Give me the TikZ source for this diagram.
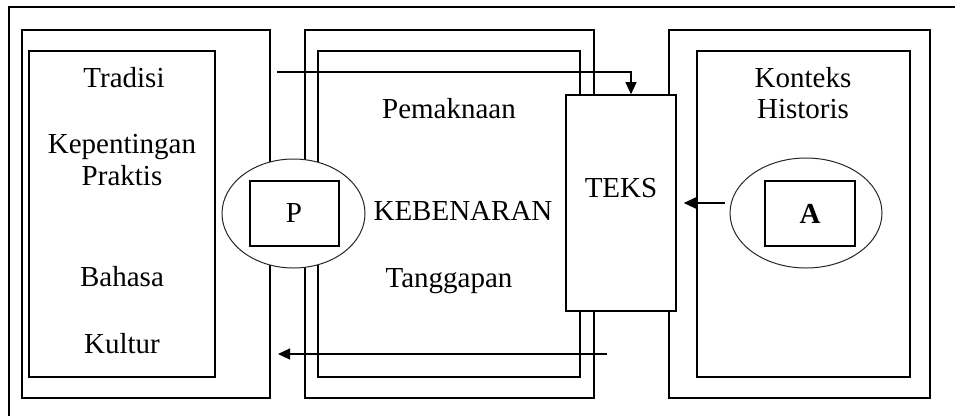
\documentclass[tikz,border=0pt]{standalone}
\usepackage{fontspec}
\setmainfont{Liberation Serif}
\usetikzlibrary{arrows.meta,calc,shapes.geometric}
\begin{document}
\begin{tikzpicture}[x=1pt,y=-1pt,
  box/.style={draw,line width=1.6pt,inner sep=0pt,rectangle},
  wbox/.style={box,fill=white},
  ell/.style={draw=black!85,line width=1pt,fill=white,ellipse,inner sep=0pt},
  lbl/.style={anchor=base,inner sep=0pt,font=\fontsize{29}{31}\selectfont},
  arr/.style={line width=1.2pt,-{Triangle[length=12pt,width=11pt]}},
  frame/.style={line width=1.3pt}]
\useasboundingbox (0,0) rectangle (955,416);
% outer frame (cropped)
\coordinate (f1) at (9,416);
\coordinate (f2) at (9,7);
\coordinate (f3) at (955,7);
\draw[frame] (f1) -- (f2) -- (f3);
% left group
\node[box,minimum width=248pt,minimum height=368pt] (Lout) at (146,214) {};
\node[box,minimum width=186pt,minimum height=326pt] (Lin) at (122,214) {};
% middle group
\node[box,minimum width=289pt,minimum height=368pt] (Mout) at (449.5,214) {};
\node[box,minimum width=262pt,minimum height=326pt] (Min) at (449,214) {};
% right group
\node[box,minimum width=261pt,minimum height=368pt] (Rout) at (799.5,214) {};
\node[box,minimum width=213pt,minimum height=326pt] (Rin) at (803.5,214) {};
% TEKS
\node[wbox,minimum width=110pt,minimum height=216pt] (TEKS) at (621,203) {};
% ellipses
\node[ell,minimum width=143pt,minimum height=109pt] (Pell) at (293.5,213.5) {};
\node[box,minimum width=89pt,minimum height=65pt] (Pbox) at (294.5,213.5) {};
\node[ell,minimum width=152pt,minimum height=110pt] (Aell) at (806,213) {};
\node[box,minimum width=90pt,minimum height=65pt] (Abox) at (810,213.5) {};
% arrows
\coordinate (t1) at (277,72);
\draw[arr] (t1) -| ($(TEKS.north)+(10,0)$);
\coordinate (b1) at (607,354);
\coordinate (b2) at (278,354);
\draw[arr] (b1) -- (b2);
\draw[arr] ($(TEKS.east -| Aell.west)+(-5,0)$) -- ($(TEKS.east)+(7,0)$);
% texts
\node[lbl] (tTradisi) at (124,87) {Tradisi};
\node[lbl] (tKep) at (122,153) {Kepentingan};
\node[lbl] (tPrak) at (122,185) {Praktis};
\node[lbl] (tBah) at (122,286) {Bahasa};
\node[lbl] (tKul) at (122,353) {Kultur};
\node[lbl] (tPem) at (449,118) {Pemaknaan};
\node[lbl] (tKeb) at (463,220) {KEBENARAN};
\node[lbl] (tTang) at (449,287) {Tanggapan};
\node[lbl] (tTeks) at (621,197) {TEKS};
\node[lbl] (tKon) at (803,87) {Konteks};
\node[lbl] (tHis) at (803,118) {Historis};
\node[lbl] (tP) at (294,222) {P};
\node[lbl,font=\fontsize{29}{31}\selectfont\bfseries] (tA) at (810,223) {A};
\end{tikzpicture}
\end{document}
